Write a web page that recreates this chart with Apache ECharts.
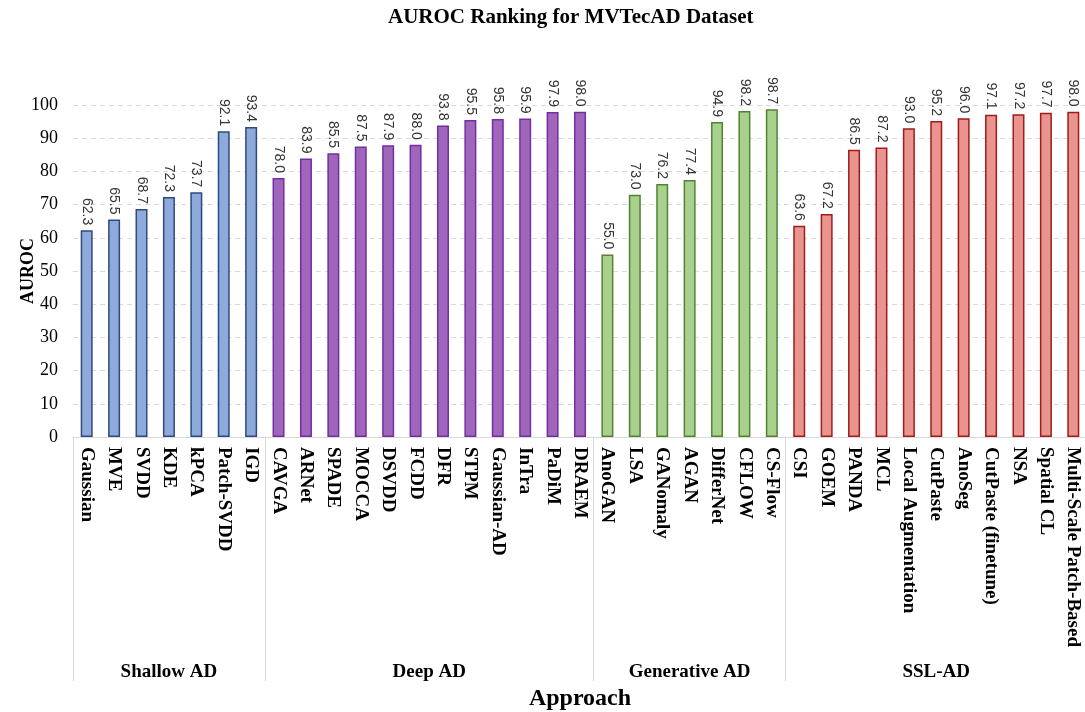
<!DOCTYPE html>
<html>
<head>
<meta charset="utf-8">
<script src="https://cdn.jsdelivr.net/npm/echarts@6/dist/echarts.min.js"></script>
<style>html,body{margin:0;padding:0;background:#fff}#c{width:1085px;height:712px}</style>
</head>
<body>
<div id="c"></div>
<script>
const shallowNames = ['Gaussian','MVE','SVDD','KDE','kPCA','Patch-SVDD','IGD'];
const shallowValues = [62.3,65.5,68.7,72.3,73.7,92.1,93.4];
const deepNames = ['CAVGA','ARNet','SPADE','MOCCA','DSVDD','FCDD','DFR','STPM','Gaussian-AD','InTra','PaDiM','DRAEM'];
const deepValues = [78.0,83.9,85.5,87.5,87.9,88.0,93.8,95.5,95.8,95.9,97.9,98.0];
const genNames = ['AnoGAN','LSA','GANomaly','AGAN','DifferNet','CFLOW','CS-Flow'];
const genValues = [55.0,73.0,76.2,77.4,94.9,98.2,98.7];
const sslNames = ['CSI','GOEM','PANDA','MCL','Local Augmentation','CutPaste','AnoSeg','CutPaste (finetune)','NSA','Spatial CL','Multi-Scale Patch-Based'];
const sslValues = [63.6,67.2,86.5,87.2,93.0,95.2,96.0,97.1,97.2,97.7,98.0];
const groupNames = ['Shallow AD','Deep AD','Generative AD','SSL-AD'];
const yTicks = [0,10,20,30,40,50,60,70,80,90,100];

const groups = [
  {names: shallowNames, values: shallowValues, fill: '#8EA9DB', border: '#2F4B7C'},
  {names: deepNames, values: deepValues, fill: '#A066BC', border: '#7030A0'},
  {names: genNames, values: genValues, fill: '#A9D18E', border: '#548235'},
  {names: sslNames, values: sslValues, fill: '#EA9490', border: '#A11B1B'}
];

const categories = [];
const barData = [];
const boundaries = [0];
const groupCenters = {};
groups.forEach((g, gi) => {
  const start = categories.length;
  g.names.forEach((n, i) => {
    categories.push(n);
    barData.push({value: g.values[i], itemStyle: {color: g.fill, borderColor: g.border, borderWidth: 1.5}});
  });
  const end = categories.length;
  boundaries.push(end * 2);
  groupCenters[start + end] = groupNames[gi];
});
const halfPoints = [];
for (let k = 0; k <= categories.length * 2; k++) halfPoints.push(String(k));

const serif = '"Liberation Serif", "Times New Roman", serif';

const chart = echarts.init(document.getElementById('c'));
chart.setOption({
  backgroundColor: '#fff',
  animation: false,
  title: {
    text: 'AUROC Ranking for MVTecAD Dataset',
    left: 383, top: 2,
    textStyle: {fontFamily: serif, fontSize: 21, fontWeight: 'bold', color: '#000'}
  },
  grid: {left: 73, top: 105, width: 1014, height: 332, containLabel: false, outerBoundsMode: 'none'},
  xAxis: [{
    type: 'category',
    data: categories,
    position: 'bottom',
    axisLine: {show: true, lineStyle: {color: '#d9d9d9', width: 1}},
    axisTick: {show: false},
    axisLabel: {
      interval: 0, rotate: -90, margin: 10,
      fontFamily: serif, fontSize: 19, fontWeight: 'bold', color: '#000'
    }
  }, {
    type: 'category',
    data: halfPoints,
    boundaryGap: false,
    position: 'bottom',
    axisLine: {show: false},
    axisTick: {
      show: true, length: 244,
      interval: (idx) => boundaries.indexOf(idx) >= 0,
      lineStyle: {color: '#d9d9d9', width: 1}
    },
    axisLabel: {
      interval: 0, margin: 226,
      formatter: (v, idx) => groupCenters[idx] || '',
      fontFamily: serif, fontSize: 19, fontWeight: 'bold', color: '#000'
    },
    name: 'Approach', nameLocation: 'middle', nameGap: 250, nameMoveOverlap: false,
    nameTextStyle: {fontFamily: serif, fontSize: 24, fontWeight: 'bold', color: '#000'}
  }],
  yAxis: {
    type: 'value',
    min: yTicks[0], max: yTicks[yTicks.length - 1], interval: 10,
    axisLine: {show: false},
    axisTick: {show: false},
    axisLabel: {margin: 15, fontFamily: serif, fontSize: 18, color: '#000'},
    splitLine: {show: true, lineStyle: {color: '#d9d9d9', type: [5, 4], width: 1}},
    name: 'AUROC', nameLocation: 'middle', nameGap: 36, nameMoveOverlap: false,
    nameTextStyle: {fontFamily: serif, fontSize: 18, fontWeight: 'bold', color: '#000'}
  },
  series: [{
    type: 'bar',
    data: barData,
    barWidth: 12,
    xAxisIndex: 0,
    label: {
      show: true, position: 'top', rotate: -90, distance: 5,
      align: 'right', verticalAlign: 'middle',
      formatter: (p) => p.value.toFixed(1),
      fontFamily: '"Liberation Sans", Arial, sans-serif', fontSize: 14, color: '#333'
    }
  }]
});
</script>
</body>
</html>
